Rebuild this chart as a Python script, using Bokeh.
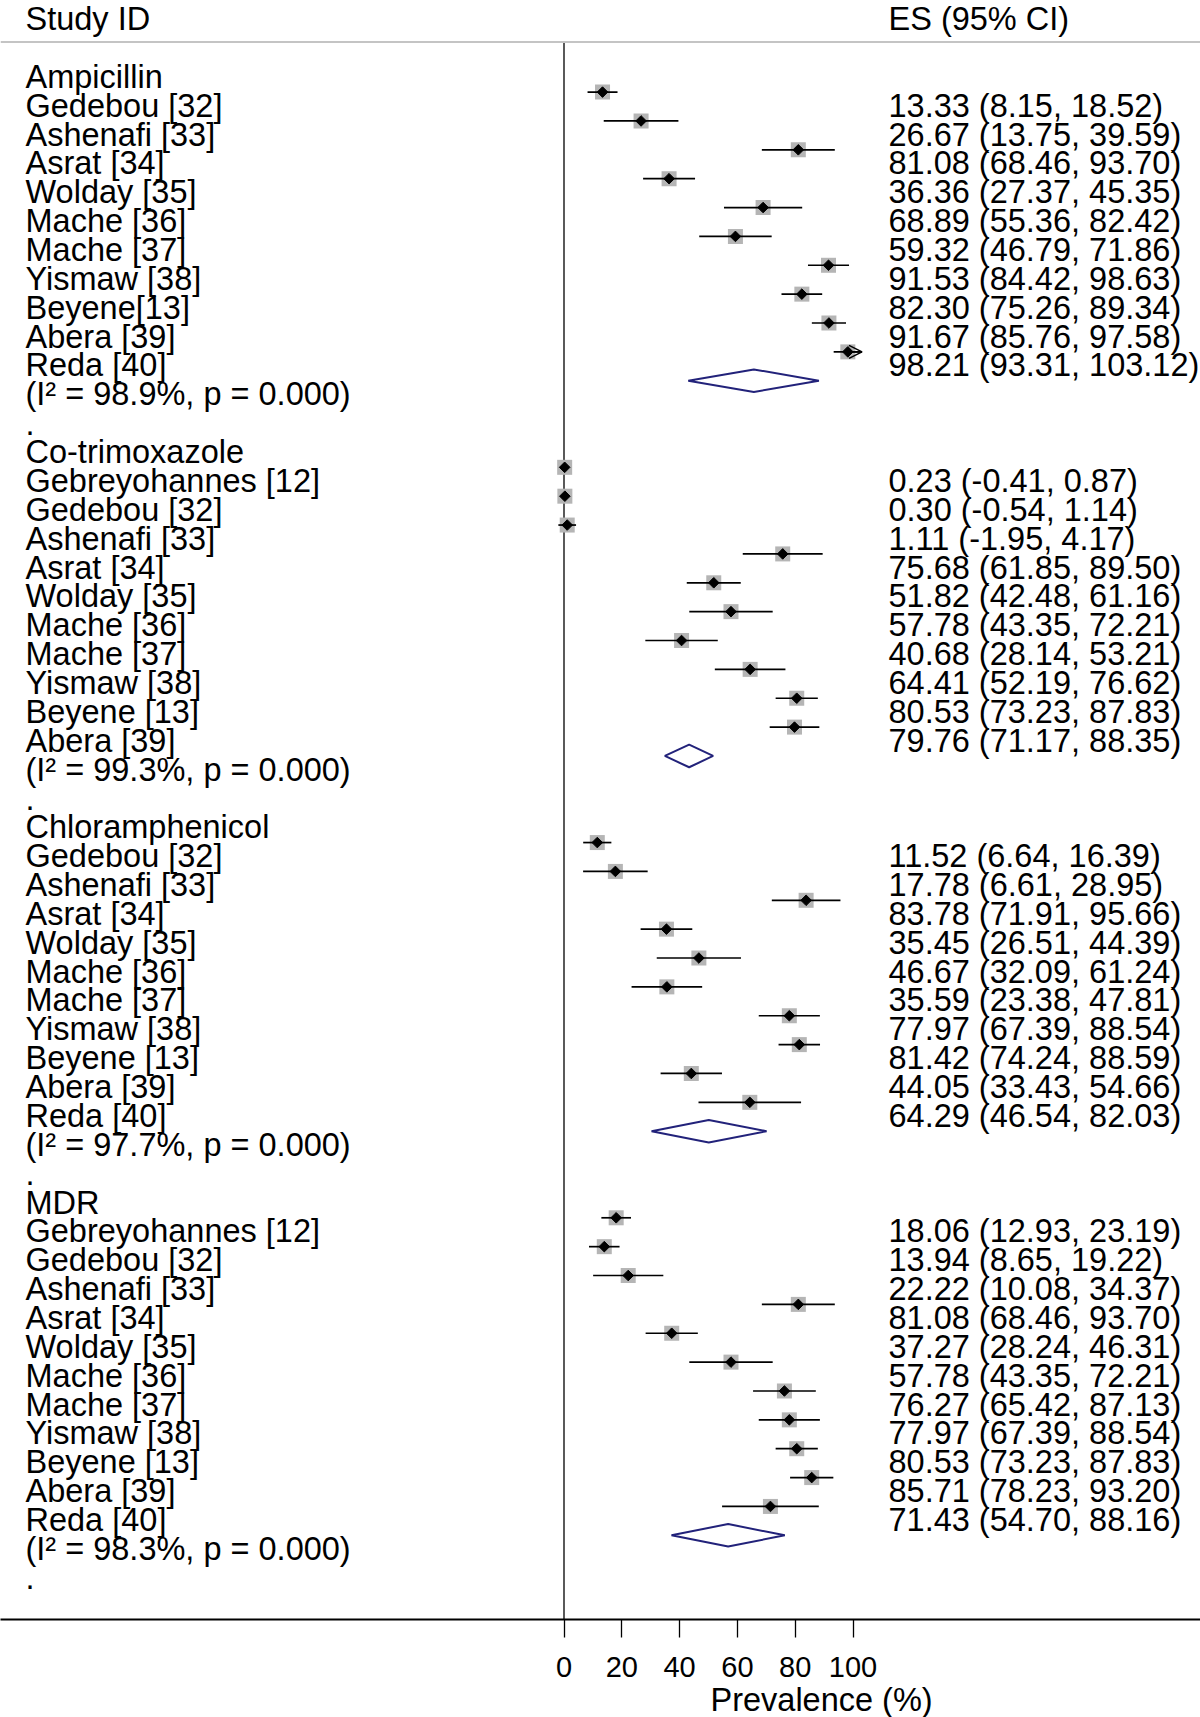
import math
from bokeh.plotting import figure
from bokeh.models import (Range1d, LinearAxis, FixedTicker, ColumnDataSource,
                          Span, Title, Arrow, OpenHead)
from bokeh.core.properties import value
from bokeh.embed import file_html
from bokeh.resources import INLINE

# ---------------- data ----------------
groups = ["Ampicillin", "Co-trimoxazole", "Chloramphenicol", "MDR"]

amp_studies = ["Gedebou [32]", "Ashenafi [33]", "Asrat [34]", "Wolday [35]", "Mache [36]",
               "Mache [37]", "Yismaw [38]", "Beyene[13]", "Abera [39]", "Reda [40]"]
amp_es = [13.33, 26.67, 81.08, 36.36, 68.89, 59.32, 91.53, 82.30, 91.67, 98.21]
amp_lo = [8.15, 13.75, 68.46, 27.37, 55.36, 46.79, 84.42, 75.26, 85.76, 93.31]
amp_hi = [18.52, 39.59, 93.70, 45.35, 82.42, 71.86, 98.63, 89.34, 97.58, 103.12]

cot_studies = ["Gebreyohannes [12]", "Gedebou [32]", "Ashenafi [33]", "Asrat [34]", "Wolday [35]",
               "Mache [36]", "Mache [37]", "Yismaw [38]", "Beyene [13]", "Abera [39]"]
cot_es = [0.23, 0.30, 1.11, 75.68, 51.82, 57.78, 40.68, 64.41, 80.53, 79.76]
cot_lo = [-0.41, -0.54, -1.95, 61.85, 42.48, 43.35, 28.14, 52.19, 73.23, 71.17]
cot_hi = [0.87, 1.14, 4.17, 89.50, 61.16, 72.21, 53.21, 76.62, 87.83, 88.35]

chl_studies = ["Gedebou [32]", "Ashenafi [33]", "Asrat [34]", "Wolday [35]", "Mache [36]",
               "Mache [37]", "Yismaw [38]", "Beyene [13]", "Abera [39]", "Reda [40]"]
chl_es = [11.52, 17.78, 83.78, 35.45, 46.67, 35.59, 77.97, 81.42, 44.05, 64.29]
chl_lo = [6.64, 6.61, 71.91, 26.51, 32.09, 23.38, 67.39, 74.24, 33.43, 46.54]
chl_hi = [16.39, 28.95, 95.66, 44.39, 61.24, 47.81, 88.54, 88.59, 54.66, 82.03]

mdr_studies = ["Gebreyohannes [12]", "Gedebou [32]", "Ashenafi [33]", "Asrat [34]", "Wolday [35]",
               "Mache [36]", "Mache [37]", "Yismaw [38]", "Beyene [13]", "Abera [39]", "Reda [40]"]
mdr_es = [18.06, 13.94, 22.22, 81.08, 37.27, 57.78, 76.27, 77.97, 80.53, 85.71, 71.43]
mdr_lo = [12.93, 8.65, 10.08, 68.46, 28.24, 43.35, 65.42, 67.39, 73.23, 78.23, 54.70]
mdr_hi = [23.19, 19.22, 34.37, 93.70, 46.31, 72.21, 87.13, 88.54, 87.83, 93.20, 88.16]

pool_es = [65.7, 43.3, 50.1, 56.8]
pool_lo = [43.0, 34.9, 30.3, 37.2]
pool_hi = [88.2, 51.6, 70.1, 76.4]
i2_values = [98.9, 99.3, 97.7, 98.3]
p_values = ["0.000", "0.000", "0.000", "0.000"]

ticks = [0, 20, 40, 60, 80, 100]
axis_max = 100
x_title = "Prevalence (%)"
header_left = "Study ID"
header_right = "ES (95% CI)"

# ---------------- layout constants ----------------
W, H = 1200, 1717
BOTTOM = 96
FRAME_H = H - BOTTOM
PX_PER_UNIT = 2.89
X0 = 563.5          # px of value 0
ROW_PX = 28.9
ROW0 = 62.8         # px of first row centre
FONT = "Liberation Sans"
FS = "32.5px"
TEXT_DY = 13.6

def xdata(px):
    return (px - X0) / PX_PER_UNIT

def ydata(px):
    return (px - ROW0) / ROW_PX

LABEL_X = xdata(25)
ES_X = xdata(888)

# ---------------- build rows ----------------
all_groups = [
    (amp_studies, amp_es, amp_lo, amp_hi),
    (cot_studies, cot_es, cot_lo, cot_hi),
    (chl_studies, chl_es, chl_lo, chl_hi),
    (mdr_studies, mdr_es, mdr_lo, mdr_hi),
]

lab_rows, lab_text = [], []
st_rows, st_es, st_lo, st_hi, st_txt = [], [], [], [], []
pd_xs, pd_ys = [], []
r = 0
for gi, (studies, es, lo, hi) in enumerate(all_groups):
    lab_rows.append(r); lab_text.append(groups[gi]); r += 1
    for s, e, l, h in zip(studies, es, lo, hi):
        lab_rows.append(r); lab_text.append(s)
        st_rows.append(r); st_es.append(e); st_lo.append(l); st_hi.append(h)
        st_txt.append(f"{e:.2f} ({l:.2f}, {h:.2f})")
        r += 1
    lab_rows.append(r)
    lab_text.append(f"(I\u00b2 = {i2_values[gi]:.1f}%, p = {p_values[gi]})")
    dh = 11.3 / ROW_PX
    pd_xs.append([pool_lo[gi], pool_es[gi], pool_hi[gi], pool_es[gi]])
    pd_ys.append([r, r - dh, r, r + dh])
    r += 1
    lab_rows.append(r); lab_text.append("."); r += 1

# ---------------- figure ----------------
p = figure(width=W, height=H, output_backend="svg", toolbar_location=None,
           x_range=Range1d(xdata(0), xdata(W)),
           y_range=Range1d(ydata(FRAME_H), ydata(0)),
           x_axis_location=None, y_axis_location=None,
           min_border_left=0, min_border_right=0, min_border_top=0,
           min_border_bottom=BOTTOM, outline_line_color=None,
           background_fill_color="white", border_fill_color="white")
for g in p.grid:
    g.visible = False

SEP_Y = ydata(41.6)
# header separator
p.add_layout(Span(location=SEP_Y, dimension="width", line_color="#c4c4c4", line_width=2))
# null line
p.segment(x0=[0], y0=[SEP_Y], x1=[0], y1=[ydata(FRAME_H)], line_color="black", line_width=1.3)

src = ColumnDataSource(dict(row=st_rows, es=st_es, lo=st_lo, hi=st_hi, txt=st_txt))

p.scatter(x="es", y="row", source=src, marker="square", size=15,
          fill_color="#b5b5b5", line_color=None)
p.segment(x0="lo", y0="row", x1="hi", y1="row", source=src, line_color="black", line_width=1.7)
p.scatter(x="es", y="row", source=src, marker="square", angle=math.pi / 4, size=7.5,
          fill_color="black", line_color="black", line_width=1)

# arrows for CIs beyond the axis
ar_idx = [i for i, h in enumerate(st_hi) if h > axis_max]
if ar_idx:
    asrc = ColumnDataSource(dict(x0=[st_es[i] for i in ar_idx], x1=[st_hi[i] for i in ar_idx],
                                 y=[st_rows[i] for i in ar_idx]))
    p.add_layout(Arrow(end=OpenHead(size=13, line_width=1.5, line_color="black"),
                       x_start="x0", y_start="y", x_end="x1", y_end="y", source=asrc,
                       line_width=1.7, line_color="black"))

# pooled diamonds
p.patches(xs=pd_xs, ys=pd_ys, fill_color="white", line_color="#22227a", line_width=2)

# texts
p.text(x=[LABEL_X] * len(lab_rows), y=lab_rows, text=lab_text,
       text_font=value(FONT), text_font_size=FS, text_baseline="alphabetic",
       text_align="left", y_offset=TEXT_DY, text_color="black")
p.text(x="x", y="row", text="txt",
       source=ColumnDataSource(dict(x=[ES_X] * len(st_rows), row=st_rows, txt=st_txt)),
       text_font=value(FONT), text_font_size=FS, text_baseline="alphabetic",
       text_align="left", y_offset=TEXT_DY, text_color="black")
# headers
p.text(x=[LABEL_X, ES_X], y=[ydata(18.7)] * 2, text=[header_left, header_right],
       text_font=value(FONT), text_font_size=FS, text_baseline="alphabetic",
       text_align="left", text_color="black")

# x axis
ax = LinearAxis(ticker=FixedTicker(ticks=ticks), major_tick_out=18, major_tick_in=0,
                minor_tick_out=0, minor_tick_in=0, major_label_standoff=19,
                major_label_text_font=FONT, major_label_text_font_size="29px",
                major_label_text_color="black",
                axis_line_width=2, axis_line_color="black",
                major_tick_line_width=1.3, major_tick_line_color="black")
p.add_layout(ax, "below")
p.add_layout(Title(text=x_title, align="left", offset=710, standoff=0,
                   text_font=FONT, text_font_size=FS, text_font_style="normal",
                   text_color="black"), "below")

open("out.html", "w").write(file_html(p, INLINE))
